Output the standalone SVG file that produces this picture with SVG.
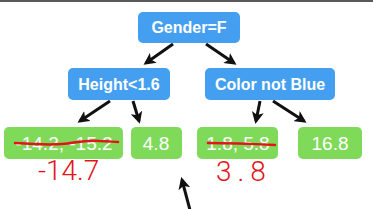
<svg xmlns="http://www.w3.org/2000/svg" width="373" height="209" viewBox="0 0 373 209">
<style>
.blue{fill:#459ff0}
.green{fill:#7fda5a}
.t{font-family:"Liberation Sans",Arial,sans-serif;fill:#fff;text-anchor:middle}
.tb{font-size:16px;font-weight:bold}
.tl{font-size:19px}
.edge{stroke:#111;stroke-width:3;fill:none;marker-end:url(#ah)}
.red{stroke:#e3141b;stroke-width:2.5;fill:none;stroke-linecap:round}
.hw{font-family:Roboto,"Liberation Sans",sans-serif;font-weight:300;font-size:28px;fill:#e3141b}
</style>
<defs>
<marker id="ah" markerWidth="4" markerHeight="4" refX="3" refY="2" orient="auto" markerUnits="strokeWidth">
<path d="M0,0 L4,2 L0,4 L1,2 Z" fill="#111"/>
</marker>
</defs>
<rect x="0" y="0" width="373" height="2" fill="#5a5a5a"/>
<g id="connectors">
<line class="edge" x1="173" y1="44" x2="146" y2="63"/>
<line class="edge" x1="206" y1="44" x2="234" y2="63"/>
<line class="edge" x1="110" y1="101" x2="80" y2="121"/>
<line class="edge" x1="133" y1="101" x2="139" y2="121"/>
<line class="edge" x1="260" y1="101" x2="256" y2="121"/>
<line class="edge" x1="273" y1="101" x2="304" y2="121"/>
<line class="edge" x1="190" y1="210" x2="182" y2="180"/>
</g>
<g id="n_gender">
<rect class="blue" x="138" y="12" width="102" height="31" rx="5"/>
<text class="t tb" x="189" y="33">Gender=F</text>
</g>
<g id="n_height">
<rect class="blue" x="68" y="68" width="102" height="32" rx="5"/>
<text class="t tb" x="119" y="90">Height&lt;1.6</text>
</g>
<g id="n_color">
<rect class="blue" x="205" y="68" width="130" height="32" rx="5"/>
<text class="t tb" x="270" y="90">Color not Blue</text>
</g>
<g id="n_leaf1">
<rect class="green" x="4" y="127" width="119" height="32" rx="5"/>
<text class="t tl" x="64" y="150">-14.2, -15.2</text>
</g>
<g id="n_leaf2">
<rect class="green" x="131" y="127" width="51" height="32" rx="5"/>
<text class="t tl" x="156" y="150">4.8</text>
</g>
<g id="n_leaf3">
<rect class="green" x="197" y="127" width="81" height="32" rx="5"/>
<text class="t tl" x="238" y="150">1.8, 5.8</text>
</g>
<g id="n_leaf4">
<rect class="green" x="298" y="127" width="64" height="32" rx="5"/>
<text class="t tl" x="330" y="150">16.8</text>
</g>
<g id="annotations">
<path class="red" d="M15,143 C30,144 50,145 62,144 C75,143 82,140 100,141 C108,141 114,142 118,142"/>
<path class="red" d="M208,143 C230,143 255,144 275,145"/>
<text class="hw" x="38" y="180">-14.7</text>
<text class="hw" x="216" y="181" letter-spacing="6">3.8</text>
</g>
</svg>
